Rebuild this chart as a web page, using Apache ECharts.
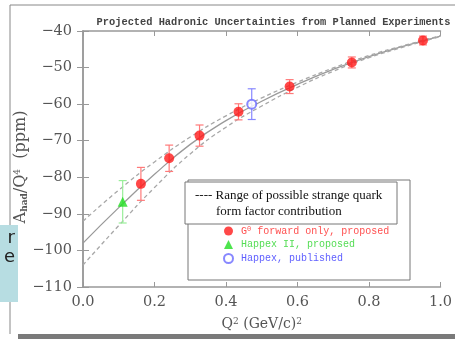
<!DOCTYPE html>
<html><head><meta charset="utf-8">
<script src="https://cdn.jsdelivr.net/npm/echarts@6/dist/echarts.min.js"></script>
<style>html,body{margin:0;padding:0;background:#fff}#c{width:455px;height:339px}</style>
</head><body><div id="c"></div>
<script>
// ---- data ----
const titleText = 'Projected Hadronic Uncertainties from Planned Experiments';
const xTickValues = [0.0, 0.2, 0.4, 0.6, 0.8, 1.0];
const yTickValues = [-110, -100, -90, -80, -70, -60, -50, -40];
const curveX     = [0.0, 0.1, 0.2, 0.3, 0.4, 0.5, 0.6, 0.7, 0.8, 0.9, 1.0];
const curveMid   = [-98.0, -88.3, -79.2, -71.0, -64.5, -59.2, -54.6, -50.5, -47.0, -44.1, -41.4];
const curveUpper = [-92.0, -83.5, -75.8, -69.0, -63.2, -58.3, -54.0, -50.1, -46.7, -43.9, -41.3];
const curveLower = [-104.0, -93.2, -82.8, -73.6, -66.3, -60.5, -55.4, -51.0, -47.3, -44.3, -41.5];
const g0X   = [0.162, 0.241, 0.326, 0.435, 0.578, 0.752, 0.951];
const g0Y   = [-81.8, -74.8, -68.6, -62.1, -55.2, -48.6, -42.6];
const g0Err = [4.5, 3.6, 2.9, 2.2, 1.9, 1.5, 1.2];
const h2X = [0.111], h2Y = [-86.7], h2Err = [5.8];
const h1X = [0.472], h1Y = [-60.0], h1Err = [4.2];
const seriesNames = ['G0 forward only, proposed', 'Happex II, proposed', 'Happex, published'];
const bandText = ['---- Range of possible strange quark', 'form factor contribution'];

const zip = (a, b) => a.map((v, i) => [v, b[i]]);
const zip3 = (a, b, c) => a.map((v, i) => [v, b[i], c[i]]);

const RED = '#ff1a1a', RED_E = '#ff7a7a';
const GREEN = '#22dd22', GREEN_E = '#99ee99';
const BLUE = '#6a6aff', BLUE_E = '#8888ff';

function errSeries(data, color) {
  return {
    type: 'custom', data: data, z: 3, silent: true,
    renderItem: function (params, api) {
      const x = api.value(0), y = api.value(1), e = api.value(2);
      const p1 = api.coord([x, y + e]), p2 = api.coord([x, y - e]);
      const w = 4;
      const st = { stroke: color, lineWidth: 1.2 };
      return { type: 'group', children: [
        { type: 'line', shape: { x1: p1[0], y1: p1[1], x2: p2[0], y2: p2[1] }, style: st },
        { type: 'line', shape: { x1: p1[0] - w, y1: p1[1], x2: p1[0] + w, y2: p1[1] }, style: st },
        { type: 'line', shape: { x1: p2[0] - w, y1: p2[1], x2: p2[0] + w, y2: p2[1] }, style: st }
      ]};
    }
  };
}

const chart = echarts.init(document.getElementById('c'), null, { renderer: 'canvas' });
const tickFont = { fontFamily: 'DejaVu Serif', fontSize: 14.5, color: '#555' };
const axisLineStyle = { color: '#999', width: 1.5 };

chart.setOption({
  backgroundColor: '#fff',
  animation: false,
  title: {
    text: titleText, left: 268.5, top: 12, textAlign: 'center',
    textStyle: { fontFamily: 'Liberation Mono', fontSize: 10.35, fontWeight: 'bold', color: '#444' }
  },
  grid: { left: 83, right: 9, top: 31, bottom: 52 },
  xAxis: [{
    type: 'value', min: 0, max: 1, interval: 0.2,
    axisLine: { show: true, lineStyle: axisLineStyle },
    axisTick: { show: true, inside: true, length: 5, lineStyle: { color: '#999' } },
    splitLine: { show: false },
    axisLabel: { ...tickFont, margin: 8, formatter: v => xTickValues.includes(+v.toFixed(1)) ? v.toFixed(1) : '' },
    name: '{n|Q}{s|2}{n| (GeV/c)}{s|2}', nameLocation: 'middle', nameGap: 30,
    nameTextStyle: { fontFamily: 'DejaVu Serif', fontSize: 14, color: '#555',
      rich: { n: { fontFamily: 'DejaVu Serif', fontSize: 14, color: '#555' },
              s: { fontFamily: 'DejaVu Serif', fontSize: 9, color: '#555', verticalAlign: 'top' } } }
  }, {
    type: 'value', min: 0, max: 1, interval: 0.2, position: 'top',
    axisLine: { show: true, lineStyle: axisLineStyle },
    axisTick: { show: true, inside: true, length: 5, lineStyle: { color: '#999' } },
    axisLabel: { show: false }, splitLine: { show: false }
  }],
  yAxis: [{
    type: 'value', min: -110, max: -40, interval: 10,
    axisLine: { show: true, lineStyle: axisLineStyle },
    axisTick: { show: true, inside: true, length: 6, lineStyle: { color: '#999' } },
    splitLine: { show: false },
    axisLabel: { ...tickFont, margin: 11, formatter: v => yTickValues.includes(v) ? String(v).replace('-', '\u2212') : '' }
  }, {
    type: 'value', min: -110, max: -40, interval: 10, position: 'right',
    axisLine: { show: true, lineStyle: axisLineStyle },
    axisTick: { show: true, inside: true, length: 6, lineStyle: { color: '#999' } },
    axisLabel: { show: false }, splitLine: { show: false }
  }],
  legend: {
    orient: 'vertical', left: 218, top: 221, itemWidth: 9, itemHeight: 9, itemGap: 3.5,
    selectedMode: false, z: 20,
    textStyle: { fontFamily: 'Liberation Mono', fontSize: 10, padding: [0, 0, 0, 3],
      rich: { n: { fontFamily: 'Liberation Mono', fontSize: 10 },
              s: { fontFamily: 'Liberation Mono', fontSize: 7, verticalAlign: 'top' } } },
    formatter: name => name.startsWith('G0') ? '{n|G}{s|0}{n|' + name.slice(2) + '}' : name,
    data: [
      { name: seriesNames[0], icon: 'circle', textStyle: { color: '#ff5050' } },
      { name: seriesNames[1], icon: 'triangle', textStyle: { color: '#55dd55' } },
      { name: seriesNames[2], icon: 'emptyCircle', textStyle: { color: '#6060ff' } }
    ]
  },
  graphic: [
    // outer slide frame
    { type: 'line', shape: { x1: 10, y1: 5, x2: 455, y2: 5 }, style: { stroke: '#888', lineWidth: 1 }, z: -1 },
    { type: 'line', shape: { x1: 10, y1: 5, x2: 10, y2: 334 }, style: { stroke: '#888', lineWidth: 1 }, z: -1 },
    { type: 'rect', shape: { x: 18, y: 334, width: 437, height: 5 }, style: { fill: '#7a7a7a' }, z: -1 },
    // y axis title
    { type: 'text', x: 21, y: 167, rotation: Math.PI / 2, z: 3,
      style: { text: '{n|A}{s|had}{n|/Q}{p|4}{n|  (ppm)}', align: 'center', verticalAlign: 'middle',
        rich: { n: { fontFamily: 'DejaVu Serif', fontSize: 16, fill: '#555' },
                s: { fontFamily: 'DejaVu Serif', fontSize: 9, fontWeight: 'bold', fill: '#555', verticalAlign: 'bottom' },
                p: { fontFamily: 'DejaVu Serif', fontSize: 9, fill: '#555', verticalAlign: 'top' } } } },
    // legend boxes
    { type: 'rect', shape: { x: 188, y: 180, width: 222, height: 100 }, style: { fill: '#fff', stroke: '#777', lineWidth: 1 }, z: 5 },
    { type: 'rect', shape: { x: 185, y: 182, width: 212, height: 42 }, style: { fill: '#fff', stroke: '#777', lineWidth: 1 }, z: 6 },
    { type: 'text', x: 195, y: 189, style: { text: bandText[0], font: '13px "Liberation Serif"', fill: '#111' }, z: 7 },
    { type: 'text', x: 216, y: 205, style: { text: bandText[1], font: '13px "Liberation Serif"', fill: '#111' }, z: 7 },
    // overlapping light-blue slide box
    { type: 'rect', shape: { x: 0, y: 225, width: 18, height: 77 }, style: { fill: '#b7dde2' }, z: 8 },
    { type: 'text', x: 15, y: 229, style: { text: 'r', font: '18px "DejaVu Sans"', fill: '#222', align: 'right' }, z: 9 },
    { type: 'text', x: 15, y: 248, style: { text: 'e', font: '18px "DejaVu Sans"', fill: '#222', align: 'right' }, z: 9 }
  ],
  series: [
    { type: 'line', data: zip(curveX, curveMid), smooth: true, symbol: 'none', silent: true,
      lineStyle: { color: '#9a9a9a', width: 1.3 }, z: 1 },
    { type: 'line', data: zip(curveX, curveUpper), smooth: true, symbol: 'none', silent: true,
      lineStyle: { color: '#a8a8a8', width: 1.3, type: [4, 3] }, z: 1 },
    { type: 'line', data: zip(curveX, curveLower), smooth: true, symbol: 'none', silent: true,
      lineStyle: { color: '#a8a8a8', width: 1.3, type: [4, 3] }, z: 1 },
    errSeries(zip3(g0X, g0Y, g0Err), RED_E),
    errSeries(zip3(h2X, h2Y, h2Err), GREEN_E),
    errSeries(zip3(h1X, h1Y, h1Err), BLUE_E),
    { name: seriesNames[0], type: 'scatter', data: zip(g0X, g0Y), symbol: 'circle', symbolSize: 10,
      itemStyle: { color: RED }, z: 4 },
    { name: seriesNames[1], type: 'scatter', data: zip(h2X, h2Y), symbol: 'triangle', symbolSize: 10,
      itemStyle: { color: GREEN }, z: 4 },
    { name: seriesNames[2], type: 'scatter', data: zip(h1X, h1Y), symbol: 'emptyCircle', symbolSize: 9,
      itemStyle: { color: BLUE, borderColor: BLUE, borderWidth: 1.2 }, z: 4 }
  ]
});
</script></body></html>
